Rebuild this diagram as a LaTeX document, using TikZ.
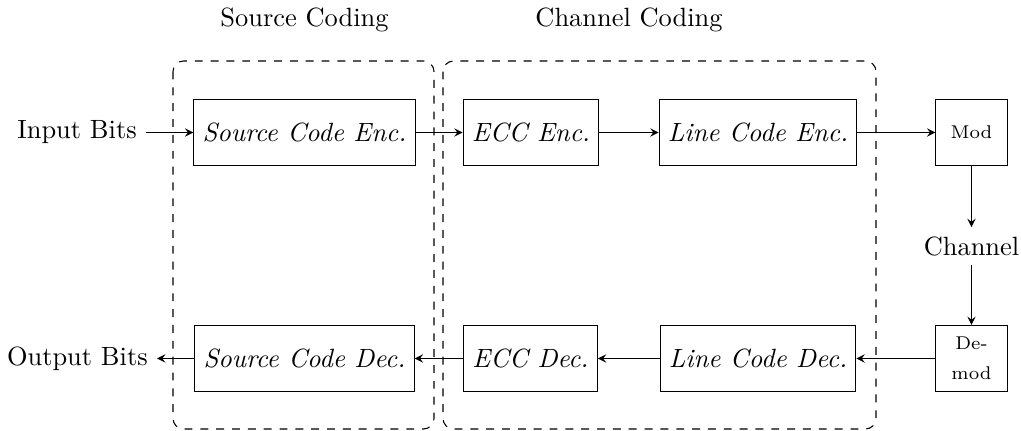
\documentclass[tikz,border=0pt]{standalone}
\usetikzlibrary{arrows}
\begin{document}
\begin{tikzpicture}[x=0.3788pt, y=-0.3788pt,
  block/.style={draw, minimum height=25pt, font=\itshape, inner sep=3.33pt},
  modbox/.style={draw, minimum height=25pt, minimum width=27pt, font=\scriptsize, align=center, inner sep=2pt},
  group/.style={draw, dashed, rounded corners=4pt},
  flow/.style={-stealth},
  title/.style={anchor=base}]
\useasboundingbox (0,0) rectangle (1021,431);

% grouping frames
\draw[group] (173,61) rectangle (434,429);
\draw[group] (443,61) rectangle (876,429);

% group titles
\node[title] (tsrc) at (304.5,27) {Source Coding};
\node[title] (tch) at (629,27) {Channel Coding};

% transmit chain
\node[block] (sce) at (304.5,132.5) {Source Code Enc.};
\node[block] (ecce) at (531,132.5) {ECC Enc.};
\node[block] (lce) at (758,132.5) {Line Code Enc.};
\node[modbox] (mod) at (971.5,132.5) {Mod};

% channel
\node (chan) at (971.5,246) {Channel};

% receive chain
\node[modbox] (demod) at (971.5,358.5) {De-\\[3.4pt]mod};
\node[block] (lcd) at (758,358.5) {Line Code Dec.};
\node[block] (eccd) at (530.5,358.5) {ECC Dec.};
\node[block] (scd) at (304.5,358.5) {Source Code Dec.};

% terminals
\node[anchor=east] (inb) at (146,132.5) {Input Bits};
\node[anchor=east] (outb) at (157,358.5) {Output Bits};

% connectors
\draw[flow] (inb) -- (sce);
\draw[flow] (sce) -- (ecce);
\draw[flow] (ecce) -- (lce);
\draw[flow] (lce) -- (mod);
\draw[flow] (mod) -- (chan);
\draw[flow] (chan) -- (demod);
\draw[flow] (demod) -- (lcd);
\draw[flow] (lcd) -- (eccd);
\draw[flow] (eccd) -- (scd);
\draw[flow] (scd) -- (outb);
\end{tikzpicture}
\end{document}
